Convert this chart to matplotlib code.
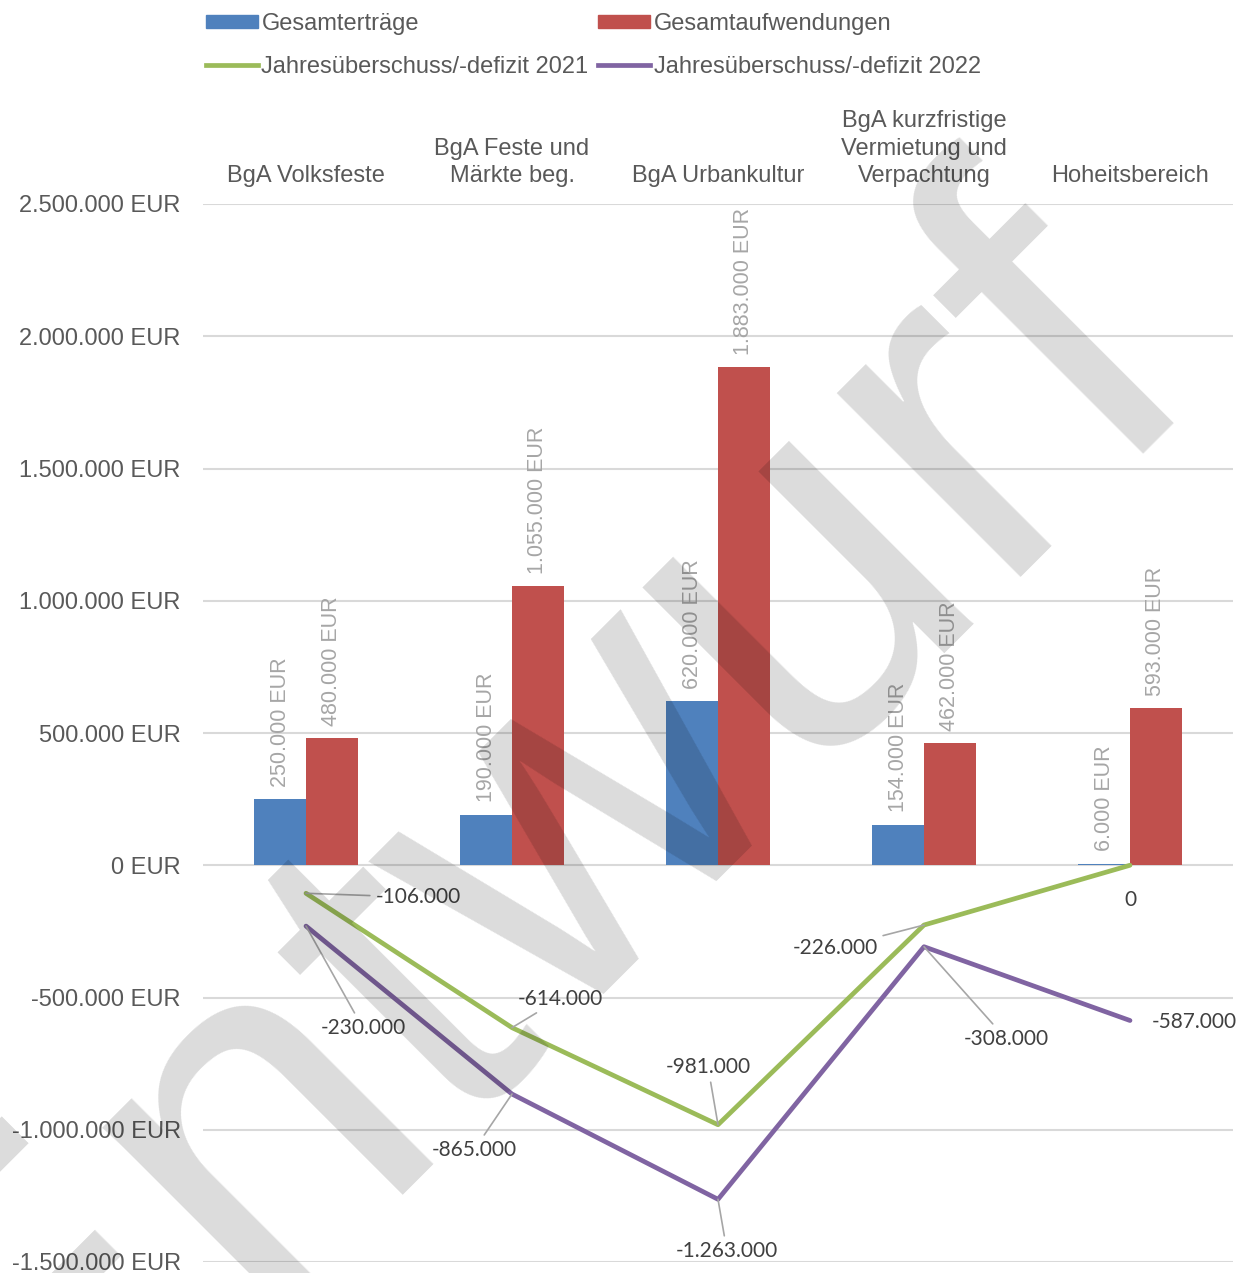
import matplotlib
matplotlib.use("Agg")
import matplotlib.pyplot as plt
from matplotlib.patches import Patch
from matplotlib.lines import Line2D
import numpy as np

# data
categories = ["BgA Volksfeste", "BgA Feste und\nMärkte beg.", "BgA Urbankultur",
              "BgA kurzfristige\nVermietung und\nVerpachtung", "Hoheitsbereich"]
ertraege = [250000, 190000, 620000, 154000, 6000]
aufwendungen = [480000, 1055000, 1883000, 462000, 593000]
ergebnis_2021 = [-106000, -614000, -981000, -226000, 0]
ergebnis_2022 = [-230000, -865000, -1263000, -308000, -587000]
y_ticks = [-1500000, -1000000, -500000, 0, 500000, 1000000, 1500000, 2000000, 2500000]

BLUE = "#4F81BD"
RED = "#C0504D"
GREEN = "#9BBB59"
PURPLE = "#8064A2"
TXT = "#595959"
GRID = "#D9D9D9"


def de(v):
    return f"{v:,.0f}".replace(",", ".")


W, H = 1252, 1273
fig = plt.figure(figsize=(W / 100, H / 100), dpi=100)
ax = fig.add_axes([203 / W, 1 - 1262 / H, 1030 / W, (1262 - 204) / H])

x = np.arange(len(categories))
bw = 0.252
b1 = ax.bar(x - bw / 2, ertraege, bw, color=BLUE, zorder=2)
b2 = ax.bar(x + bw / 2, aufwendungen, bw, color=RED, zorder=2)
for bars, vals in ((b1, ertraege), (b2, aufwendungen)):
    ax.bar_label(bars, labels=[de(v) + " EUR" for v in vals], rotation=90,
                 padding=9, color="#A6A6A6", fontsize=15.5,
                 family="Liberation Sans")

ax.plot(x, ergebnis_2021, color=GREEN, lw=3.4, zorder=3, solid_capstyle="round")
ax.plot(x, ergebnis_2022, color=PURPLE, lw=3.4, zorder=3, solid_capstyle="round")

# label offsets in pixels (dx, dy, leader line)
off_2021 = [(112, -4, True), (48, 29, True), (-10, 58, True), (-89, -23, True), (0, -35, False)]
off_2022 = [(57, -102, True), (-38, -56, True), (9, -52, True), (82, -92, True), (64, -1, False)]
for vals, offs in ((ergebnis_2021, off_2021), (ergebnis_2022, off_2022)):
    for i, (v, (dx, dy, lead)) in enumerate(zip(vals, offs)):
        ap = dict(arrowstyle="-", color="#A6A6A6", lw=1.2, shrinkA=2, shrinkB=0) if lead else None
        ax.annotate(de(v), (x[i], v), xytext=(dx, dy), textcoords="offset pixels",
                    ha="center", va="center", fontsize=15, color="#404040",
                    family="Lato", arrowprops=ap, zorder=4)

ax.set_xlim(-0.5, len(categories) - 0.5)
ax.set_ylim(-1500000, 2500000)
ax.set_yticks(y_ticks)
ax.set_yticklabels([de(v) + " EUR" for v in y_ticks])
ax.grid(axis="y", color=GRID, lw=1.5, zorder=0)
ax.set_axisbelow(True)
ax.xaxis.tick_top()
ax.set_xticks(x)
ax.set_xticklabels(categories, linespacing=1.32)
ax.tick_params(axis="both", length=0, labelsize=17, labelcolor=TXT)
ax.tick_params(axis="x", pad=12)
ax.tick_params(axis="y", pad=16)
for lbl in ax.get_xticklabels() + ax.get_yticklabels():
    lbl.set_family("Liberation Sans")
for s in ax.spines.values():
    s.set_visible(False)

handles = [Patch(color=BLUE, label="Gesamterträge"),
           Line2D([], [], color=GREEN, lw=3.4, label="Jahresüberschuss/-defizit 2021"),
           Patch(color=RED, label="Gesamtaufwendungen"),
           Line2D([], [], color=PURPLE, lw=3.4, label="Jahresüberschuss/-defizit 2022")]
fig.legend(handles=handles, ncol=2, loc="upper left", bbox_to_anchor=(206 / W, 1 - 13 / H),
           frameon=False, prop={"family": "Liberation Sans", "size": 17},
           labelcolor=TXT, handlelength=2.2, handleheight=0.5, handletextpad=0.15,
           columnspacing=0.4, labelspacing=0.88, borderpad=0, borderaxespad=0)

# watermark
fig.text(609 / W, 1 - 948 / H, "Entwurf", rotation=45, ha="center", va="baseline",
         rotation_mode="anchor", fontsize=354, color="black", alpha=0.14,
         family="Liberation Sans", zorder=10)

fig.savefig("out.png", dpi=100)
